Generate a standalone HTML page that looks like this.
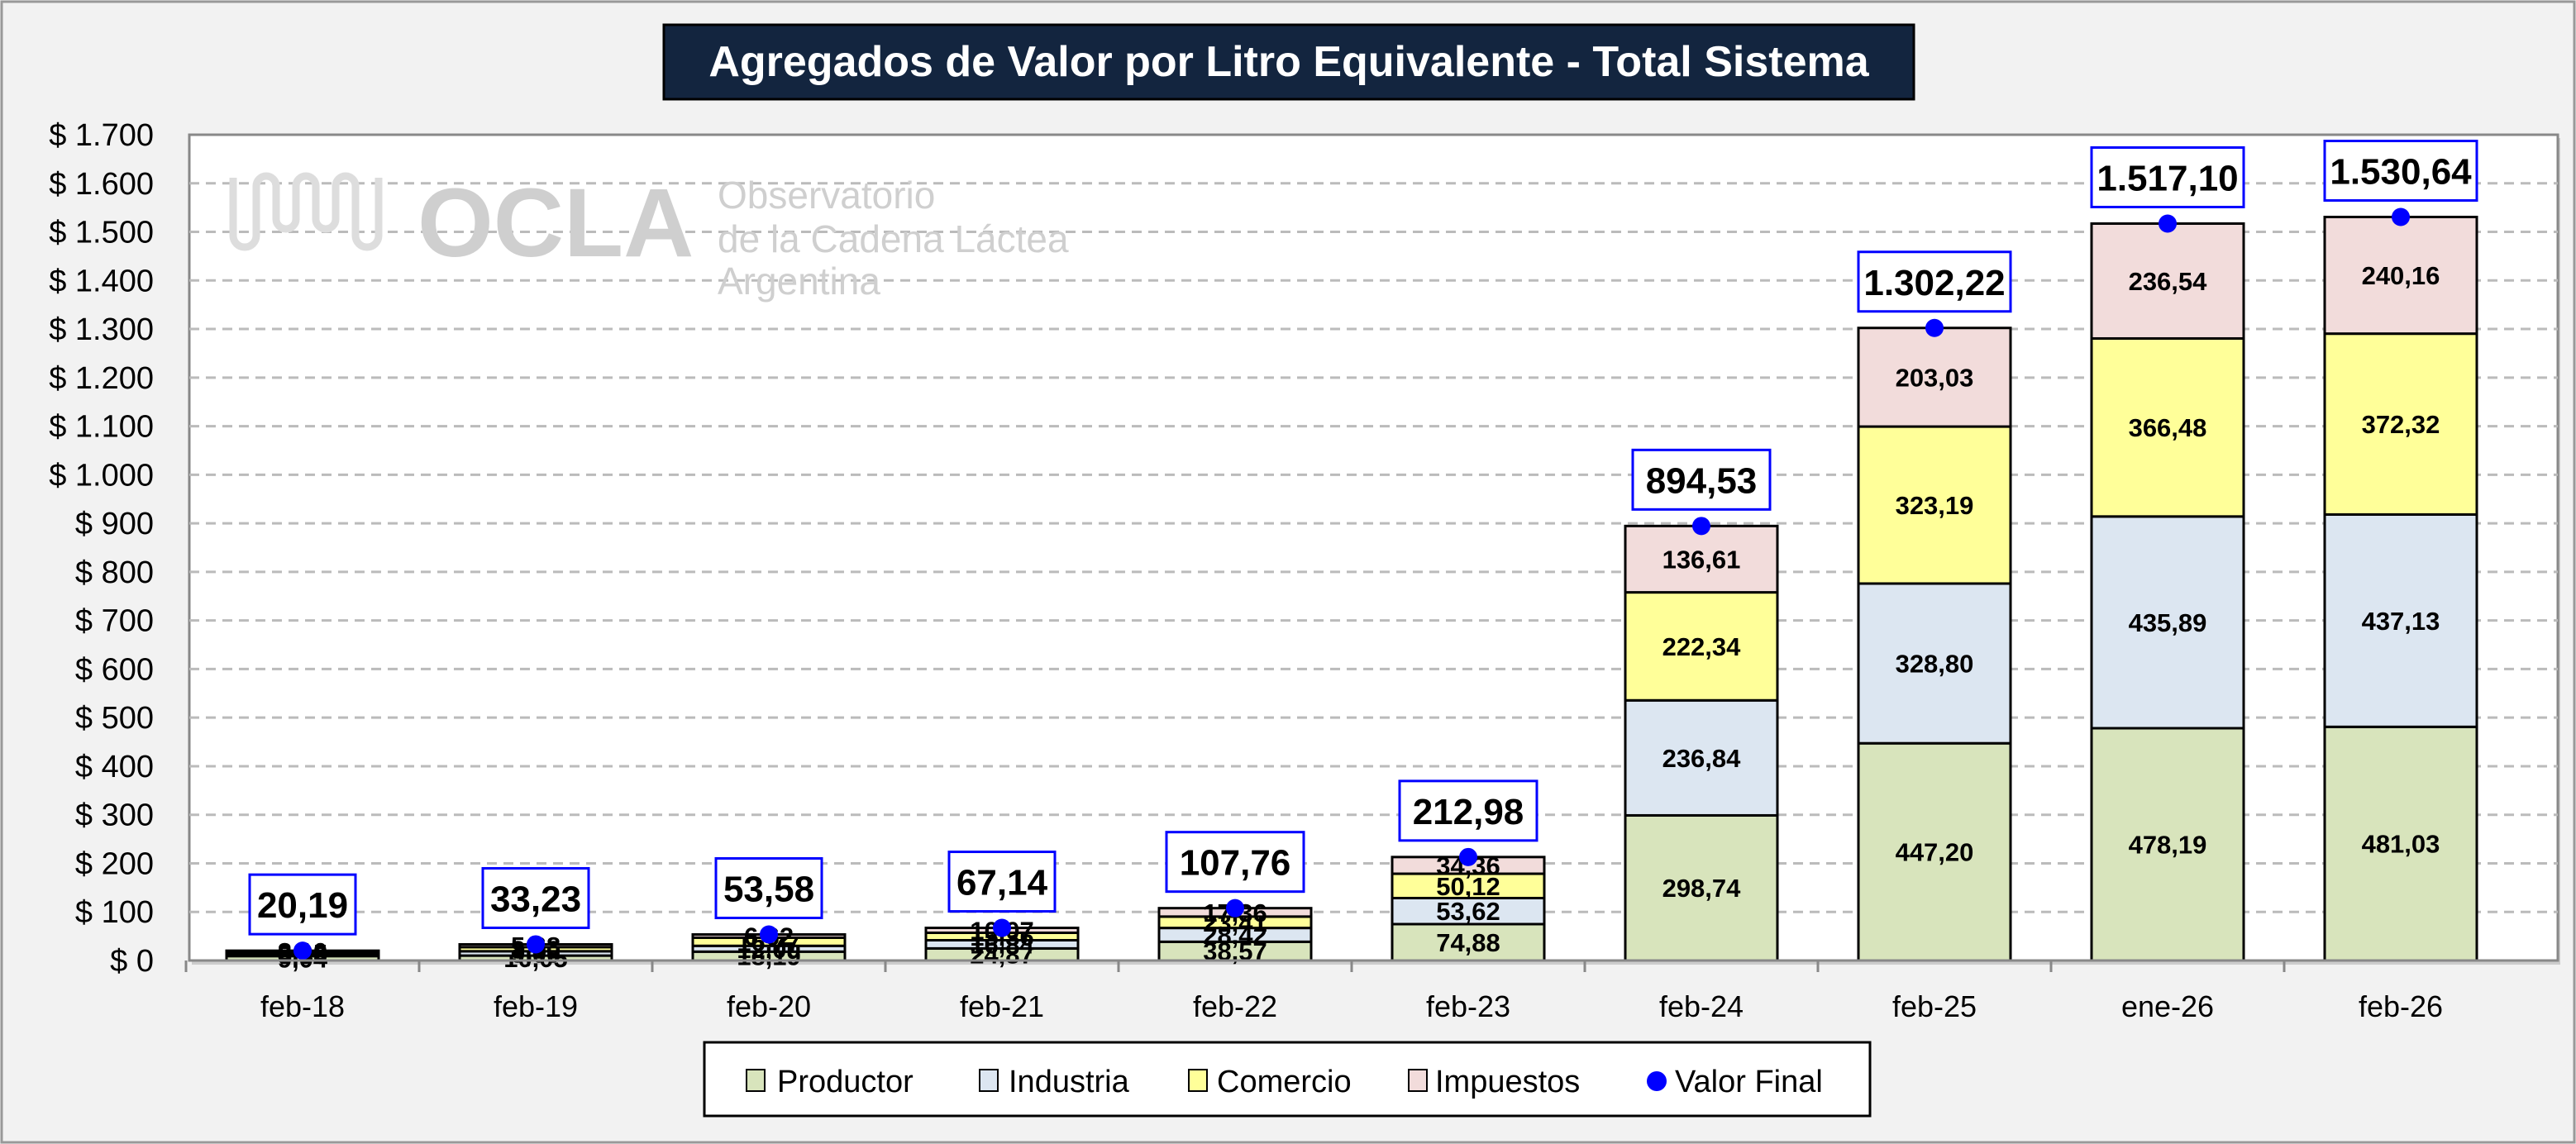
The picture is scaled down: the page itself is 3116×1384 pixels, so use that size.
<!DOCTYPE html>
<html><head><meta charset="utf-8"><style>
html,body{margin:0;padding:0;background:#f2f2f2;}
svg{display:block;font-family:"Liberation Sans",sans-serif;}
</style></head><body>
<svg id="chart" width="3116" height="1384" viewBox="0 0 3116 1384" xmlns="http://www.w3.org/2000/svg">
<rect x="2" y="2" width="3112" height="1380" fill="#f2f2f2" stroke="#999" stroke-width="3"/>
<rect x="803" y="30" width="1512" height="90" fill="#13253f" stroke="#000" stroke-width="3"/>
<text x="1559" y="92" text-anchor="middle" font-size="52" font-weight="bold" fill="#fff">Agregados de Valor por Litro Equivalente - Total Sistema</text>
<rect x="232" y="167" width="2865" height="1000" fill="#ccc"/>
<rect x="229" y="163" width="2865" height="999" fill="#fff" stroke="#888" stroke-width="3"/>
<g id="grid"></g>
<g fill="#cfcfcf">
<path d="M282 215 v70 a14 14 0 0 0 28 0 v-60 a12 12 0 0 1 24 0 v40 a12 12 0 0 0 24 0 v-40 a12 12 0 0 1 24 0 v40 a12 12 0 0 0 24 0 v-40 a12 12 0 0 1 24 0 v60 a14 14 0 0 0 28 0 v-70" fill="none" stroke="#ddd" stroke-width="9"/>
<text x="505" y="310" font-size="118" font-weight="bold">OCLA</text>
<text x="868" y="252" font-size="46">Observatorio</text>
<text x="868" y="305" font-size="46">de la Cadena Láctea</text>
<text x="868" y="356" font-size="46">Argentina</text>
</g>
<g id="yaxis"></g>
<g id="bars"></g>
<g id="xaxis"></g>
<g>
<rect x="852" y="1261" width="1410" height="89" fill="#fff" stroke="#000" stroke-width="3"/>
<rect x="903" y="1294" width="22" height="26" fill="#d8e4bc" stroke="#000" stroke-width="2"/>
<text x="940" y="1321" font-size="38">Productor</text>
<rect x="1185" y="1294" width="22" height="26" fill="#dce6f1" stroke="#000" stroke-width="2"/>
<text x="1220" y="1321" font-size="38">Industria</text>
<rect x="1438" y="1294" width="22" height="26" fill="#ffff99" stroke="#000" stroke-width="2"/>
<text x="1472" y="1321" font-size="38">Comercio</text>
<rect x="1704" y="1294" width="22" height="26" fill="#f2dcdb" stroke="#000" stroke-width="2"/>
<text x="1736" y="1321" font-size="38">Impuestos</text>
<circle cx="2004" cy="1308" r="12" fill="#0000ff"/>
<text x="2026" y="1321" font-size="38">Valor Final</text>
</g>
</svg>
<script>
const categories = ["feb-18","feb-19","feb-20","feb-21","feb-22","feb-23","feb-24","feb-25","ene-26","feb-26"];
const productor = [9.04,10.05,18.19,24.87,38.57,74.88,298.74,447.20,478.19,481.03];
const industria = [5.00,9.00,12.00,16.84,28.42,53.62,236.84,328.80,435.89,437.13];
const comercio = [3.05,8.50,16.77,15.36,23.41,50.12,222.34,323.19,366.48,372.32];
const impuestos = [3.10,5.68,6.62,10.07,17.36,34.36,136.61,203.03,236.54,240.16];
const valorFinal = [20.19,33.23,53.58,67.14,107.76,212.98,894.53,1302.22,1517.10,1530.64];
const yTicks = [0,100,200,300,400,500,600,700,800,900,1000,1100,1200,1300,1400,1500,1600,1700];

const NS = "http://www.w3.org/2000/svg";
const L = 229, R = 3094, T = 163, B = 1162, YMAX = 1700;
const y = v => B - (v / YMAX) * (B - T);
const band = 282, X0 = 366;
const xc = i => X0 + band * i;
function mk(tag, attrs, parent, txt) {
  const e = document.createElementNS(NS, tag);
  for (const k in attrs) e.setAttribute(k, attrs[k]);
  if (txt !== undefined) e.textContent = txt;
  parent.appendChild(e);
  return e;
}
const fmt = v => { const s = v.toFixed(2).split("."); return s[0].replace(/\B(?=(\d{3})+(?!\d))/g, ".") + "," + s[1]; };
const fmtT = v => "$ " + String(v).replace(/\B(?=(\d{3})+(?!\d))/g, ".");

const grid = document.getElementById("grid"), ya = document.getElementById("yaxis");
yTicks.forEach(t => {
  if (t > 0 && t < YMAX) {
    const g = mk("line", {x1: L, x2: R, y1: y(t), y2: y(t), stroke: "#bbb", "stroke-width": 3, "stroke-dasharray": "12 8"}, grid);
    
    
  }
  const tl = mk("text", {x: 186, y: y(t) + 13, "text-anchor": "end", "font-size": 38}, ya, fmtT(t));
  
  
});

const bars = document.getElementById("bars"), xa = document.getElementById("xaxis");
const series = [["productor", productor, "#d8e4bc"], ["industria", industria, "#dce6f1"], ["comercio", comercio, "#ffff99"], ["impuestos", impuestos, "#f2dcdb"]];
const bw = 184;
const al = mk("line", {x1: L, x2: R, y1: B, y2: B, stroke: "#888", "stroke-width": 3}, xa);


categories.forEach((c, i) => {
  const cx = xc(i);
  let base = 0;
  series.forEach(([name, arr, col]) => {
    const v = arr[i];
    const r = mk("rect", {x: cx - bw / 2, y: y(base + v), width: bw, height: y(base) - y(base + v), fill: col, stroke: "#000", "stroke-width": 3}, bars);
    
    
    const lab = mk("text", {x: cx, y: (y(base) + y(base + v)) / 2 + 11, "text-anchor": "middle", "font-size": 31, "font-weight": "bold"}, bars, fmt(v));
    
    
    base += v;
  });
  const dot = mk("circle", {cx: cx, cy: y(valorFinal[i]), r: 11, fill: "#0000ff"}, bars);
  
  
  const by = y(valorFinal[i]) - 56;
  const tw = valorFinal[i] >= 1000 ? 184 : (valorFinal[i] >= 100 ? 166 : 128);
  const box = mk("rect", {x: cx - tw / 2, y: by - 36, width: tw, height: 72, fill: "#fff", stroke: "#0000ff", "stroke-width": 3}, bars);
  
  
  const vt = mk("text", {x: cx, y: by + 16, "text-anchor": "middle", "font-size": 44, "font-weight": "bold"}, bars, fmt(valorFinal[i]));
  
  
  const tk = mk("line", {x1: cx - band / 2, x2: cx - band / 2, y1: B, y2: B + 14, stroke: "#888", "stroke-width": 3}, xa);
  
  
  const xl = mk("text", {x: cx, y: 1230, "text-anchor": "middle", "font-size": 36}, xa, c);
  
  
});
</script>
</body></html>
